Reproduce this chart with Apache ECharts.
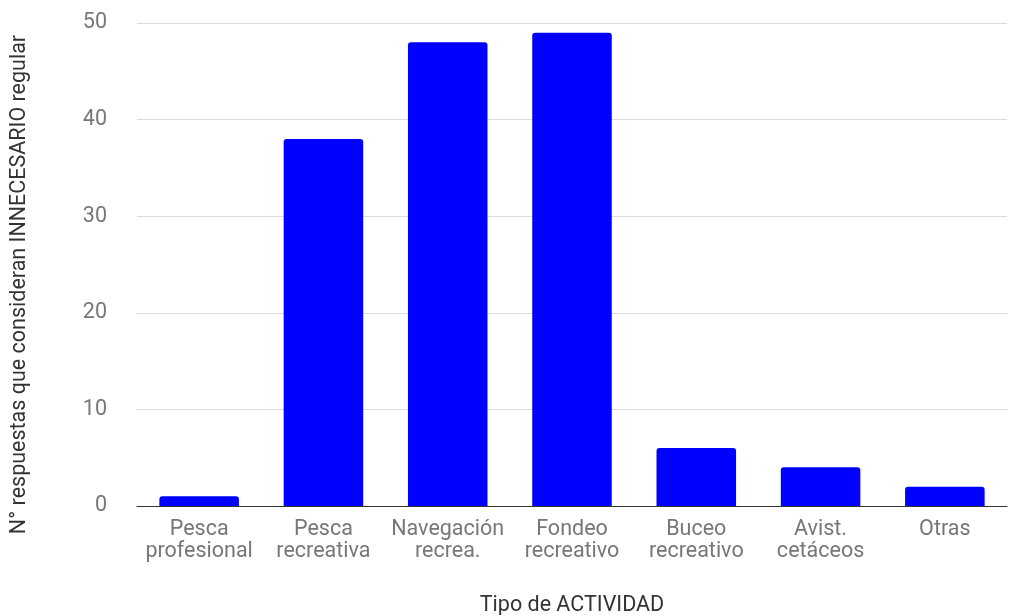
<!DOCTYPE html>
<html><head><meta charset="utf-8">
<script src="https://cdn.jsdelivr.net/npm/echarts@6/dist/echarts.min.js"></script>
<style>html,body{margin:0;padding:0;background:#fff}#c{width:1019px;height:615px}</style>
</head><body><div id="c"></div>
<script>
const categories = ["Pesca\nprofesional","Pesca\nrecreativa","Navegación\nrecrea.","Fondeo\nrecreativo","Buceo\nrecreativo","Avist.\ncetáceos","Otras"];
const values = [1, 38, 48, 49, 6, 4, 2];
const yTicks = [0, 10, 20, 30, 40, 50];

const chart = echarts.init(document.getElementById('c'));
chart.setOption({
  animation: false,
  textStyle: {fontFamily: 'Roboto'},
  grid: {left: 137, right: 12, top: 23, bottom: 109, containLabel: false, outerBoundsMode: 'none'},
  xAxis: {
    type: 'category', data: categories,
    name: 'Tipo de ACTIVIDAD', nameLocation: 'middle', nameGap: 89,
    nameTextStyle: {fontSize: 21.5, color: '#333', fontFamily: 'Roboto'},
    axisTick: {show: false},
    axisLine: {lineStyle: {color: '#333', width: 1}},
    axisLabel: {fontSize: 21.5, color: '#777', lineHeight: 22, margin: 13, interval: 0}
  },
  yAxis: {
    type: 'value', min: yTicks[0], max: yTicks[yTicks.length-1], interval: 10,
    name: 'N° respuestas que consideran INNECESARIO regular', nameLocation: 'middle', nameGap: 106,
    nameTextStyle: {fontSize: 21.5, color: '#333', fontFamily: 'Roboto', padding: [0,0,0,-40]},
    axisLabel: {fontSize: 21.5, color: '#777', margin: 30},
    splitLine: {lineStyle: {color: '#dcdcdc'}},
    axisLine: {show: false}, axisTick: {show: false}
  },
  series: [{
    type: 'bar', data: values, barCategoryGap: '36%',
    itemStyle: {color: '#0000ff', borderRadius: [3,3,0,0]}
  }]
});
</script></body></html>
